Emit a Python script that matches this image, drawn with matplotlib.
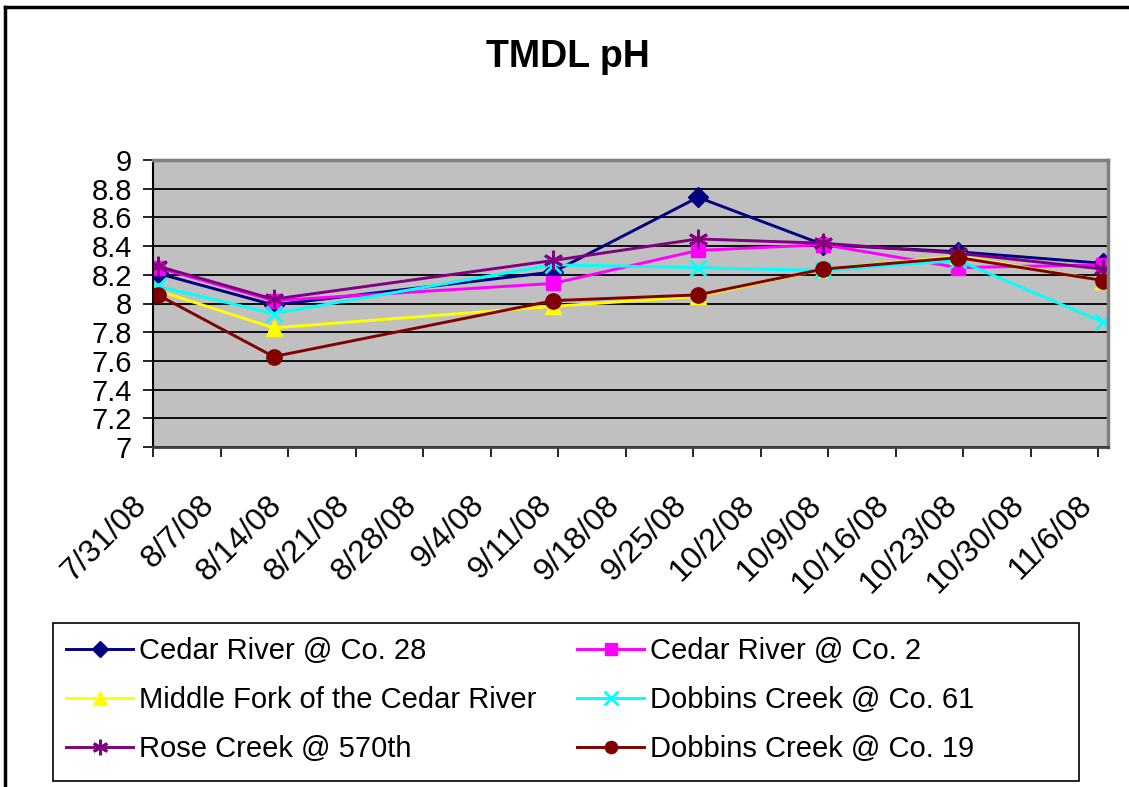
import datetime as dt
import matplotlib
matplotlib.use("Agg")
import matplotlib.pyplot as plt
from matplotlib.lines import Line2D
from matplotlib.patches import Rectangle

plt.rcParams['font.family'] = ['Liberation Sans', 'DejaVu Sans']

# sampling dates and pH values
dates = [dt.date(2008, 7, 31), dt.date(2008, 8, 12), dt.date(2008, 9, 10),
         dt.date(2008, 9, 25), dt.date(2008, 10, 8), dt.date(2008, 10, 22),
         dt.date(2008, 11, 6)]

cedar_28 = [8.21, 7.99, 8.22, 8.74, 8.41, 8.36, 8.28]
cedar_2 = [8.25, 8.02, 8.14, 8.37, 8.41, 8.25, 8.27]
middle_fork = [8.09, 7.83, 7.98, 8.05, 8.24, 8.33, 8.16]
dobbins_61 = [8.12, 7.93, 8.27, 8.25, 8.23, 8.30, 7.87]
rose_570 = [8.26, 8.03, 8.30, 8.45, 8.42, 8.35, 8.24]
dobbins_19 = [8.06, 7.63, 8.02, 8.06, 8.24, 8.32, 8.16]

names = ["Cedar River @ Co. 28", "Cedar River @ Co. 2",
         "Middle Fork of the Cedar River", "Dobbins Creek @ Co. 61",
         "Rose Creek @ 570th", "Dobbins Creek @ Co. 19"]
series = [cedar_28, cedar_2, middle_fork, dobbins_61, rose_570, dobbins_19]
colors = ["#000080", "#FF00FF", "#FFFF00", "#00FFFF", "#800080", "#800000"]
markers = ["D", "s", "^", "x", (6, 2, 0), "o"]
msizes = [10, 10, 12, 12, 14, 11]

fig = plt.figure(figsize=(11.29, 7.87), dpi=100)
ax = fig.add_axes([153 / 1129, 1 - 447 / 787, (1108 - 153) / 1129, (447 - 160) / 787])
ax.set_facecolor("#C0C0C0")

# excel date axis: each day is a slot, points sit in the middle of the slot
half_day = dt.timedelta(hours=12)
xs = [dt.datetime.combine(d, dt.time()) + half_day for d in dates]

handles = []
for name, vals, c, m, ms in zip(names, series, colors, markers, msizes):
    mew = 2 if m in ("x", (6, 2, 0)) else 1
    h, = ax.plot(xs, vals, color=c, lw=2.1, marker=m, markersize=ms,
                 markeredgewidth=mew, markeredgecolor=c, label=name)
    handles.append(h)

ax.set_ylim(7, 9)
ax.set_yticks([7 + 0.2 * i for i in range(11)])
ax.set_yticklabels(["7", "7.2", "7.4", "7.6", "7.8", "8", "8.2", "8.4", "8.6", "8.8", "9"])
ax.yaxis.grid(True, color="black", lw=1.3)
ax.set_axisbelow(True)

start = dt.datetime(2008, 7, 31)
ax.set_xlim(start, dt.datetime(2008, 11, 7))
ticks = [start + dt.timedelta(days=7 * i) for i in range(15)]
ax.set_xticks(ticks)
ax.set_xticklabels([f"{t.month}/{t.day}/{t:%y}" for t in ticks],
                   rotation=45, ha="right")

ax.tick_params(axis="both", length=7, width=1.2, color="black", direction="out")
ax.tick_params(axis="x", pad=24, labelsize=23)
ax.tick_params(axis="y", pad=8, labelsize=21)

for s in ["top", "right"]:
    ax.spines[s].set_color("#808080")
    ax.spines[s].set_linewidth(2.5)
ax.spines["left"].set_color("black")
ax.spines["left"].set_linewidth(1.5)
ax.spines["bottom"].set_color("#404040")
ax.spines["bottom"].set_linewidth(2)

fig.text(568 / 1129, 1 - 57 / 787, "TMDL pH", fontsize=27, fontweight="bold",
         ha="center", va="center")

# legend in excel's row order -> column-major for matplotlib
order = [0, 2, 4, 1, 3, 5]
leg = fig.legend([handles[i] for i in order], [names[i] for i in order],
                 ncol=2, loc="upper left", bbox_to_anchor=(56 / 1129, 1 - 627 / 787),
                 fontsize=21, frameon=False, handlelength=2.3, handletextpad=0.2,
                 labelspacing=0.72, borderaxespad=0, borderpad=0.35,
                 columnspacing=1.4, markerscale=0.8)

# legend box drawn separately so it spans the same width as in the original
fig.add_artist(Rectangle((53 / 1129, 1 - 781 / 787), (1079 - 53) / 1129, (781 - 623) / 787,
                         transform=fig.transFigure, facecolor="none",
                         edgecolor="black", lw=1.2))

# chart border (left and top edges visible)
fig.add_artist(Line2D([5 / 1129, 5 / 1129], [0, 1 - 7 / 787], color="black", lw=2.5,
                      transform=fig.transFigure))
fig.add_artist(Line2D([5 / 1129, 1], [1 - 7 / 787, 1 - 7 / 787], color="black", lw=2.5,
                      transform=fig.transFigure))

fig.savefig("out.png", dpi=100)
